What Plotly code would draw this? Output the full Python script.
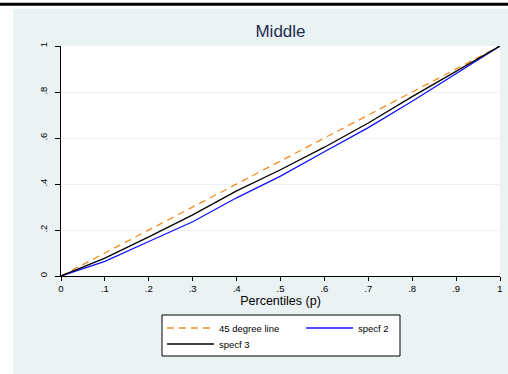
import plotly.graph_objects as go

# ---- data ----
p = [0, .1, .2, .3, .4, .5, .6, .7, .8, .9, 1]
deg45 = [0, .1, .2, .3, .4, .5, .6, .7, .8, .9, 1]
specf2 = [0, .064, .15, .236, .34, .434, .54, .645, .76, .88, 1]
specf3 = [0, .078, .17, .266, .37, .462, .56, .665, .78, .89, 1]

xtick_vals = [0, .1, .2, .3, .4, .5, .6, .7, .8, .9, 1]
xtick_text = ["0", ".1", ".2", ".3", ".4", ".5", ".6", ".7", ".8", ".9", "1"]
ytick_vals = [0, .2, .4, .6, .8, 1]
ytick_text = ["0", ".2", ".4", ".6", ".8", "1"]

W, H = 508, 374
L, R, T, B = 61, 8, 46, 98
PW, PH = W - L - R, H - T - B

def px_x(x):
    return (x - L) / PW

def px_y(y):
    return (H - B - y) / PH

FONT = "Liberation Sans, Arial, sans-serif"
BG = "#eaf2f3"

fig = go.Figure()
fig.add_trace(go.Scatter(x=p, y=deg45, mode="lines", name="45 degree line",
                         line=dict(color="#f98b1f", width=1.3, dash="7px,5px"),
                         legend="legend"))
fig.add_trace(go.Scatter(x=p, y=specf2, mode="lines", name="specf 2",
                         line=dict(color="#1010ff", width=1.3), legend="legend"))
fig.add_trace(go.Scatter(x=p, y=specf3, mode="lines", name="specf 3",
                         line=dict(color="#000000", width=1.3), legend="legend2"))

legend_common = dict(orientation="h", xanchor="left", yanchor="middle",
                     bgcolor="rgba(0,0,0,0)", borderwidth=0,
                     font=dict(family=FONT, size=9.5, color="black"),
                     itemwidth=47, entrywidth=77, entrywidthmode="pixels",
                     itemclick=False, itemdoubleclick=False)

fig.update_layout(
    width=W, height=H,
    margin=dict(l=L, r=R, t=T, b=B, autoexpand=False),
    paper_bgcolor=BG, plot_bgcolor="white",
    title=dict(text="Middle", x=(L + PW / 2) / W, xanchor="center",
               y=1 - 31 / H, yanchor="middle", yref="container",
               font=dict(family=FONT, size=17, color="#1e2d4f")),
    xaxis=dict(range=[0, 1], tickvals=xtick_vals, ticktext=xtick_text,
               showline=True, linecolor="black", linewidth=1,
               ticks="outside", ticklen=4, tickcolor="black",
               showgrid=False, zeroline=False,
               tickfont=dict(family=FONT, size=9.5, color="black"),
               title=dict(text="Percentiles (p)", standoff=2,
                          font=dict(family=FONT, size=12.5, color="black"))),
    yaxis=dict(range=[0, 1], tickvals=ytick_vals, ticktext=ytick_text,
               showline=True, linecolor="black", linewidth=1,
               ticks="outside", ticklen=5, tickcolor="black",
               tickangle=-90, ticklabelstandoff=4,
               showgrid=True, gridcolor=BG, gridwidth=1,
               zeroline=False,
               tickfont=dict(family=FONT, size=9.5, color="black")),
    legend=dict(x=px_x(162), y=px_y(328), **legend_common),
    legend2=dict(x=px_x(162), y=px_y(344), **legend_common),
    shapes=[
        # legend frame
        dict(type="rect", xref="paper", yref="paper",
             x0=px_x(162), x1=px_x(400), y0=px_y(315), y1=px_y(356),
             fillcolor="white", line=dict(color="black", width=1), layer="below"),
        # white strip on the left and top
        dict(type="rect", xref="paper", yref="paper",
             x0=px_x(0), x1=px_x(13), y0=px_y(374), y1=px_y(0),
             fillcolor="white", line=dict(width=0), layer="below"),
        dict(type="rect", xref="paper", yref="paper",
             x0=px_x(0), x1=px_x(508), y0=px_y(9), y1=px_y(0),
             fillcolor="white", line=dict(width=0), layer="below"),
        # black rule at the top
        dict(type="line", xref="paper", yref="paper",
             x0=px_x(0), x1=px_x(508), y0=px_y(4.2), y1=px_y(4.2),
             line=dict(color="black", width=3), layer="above"),
    ],
)

fig.write_html("out.html")
